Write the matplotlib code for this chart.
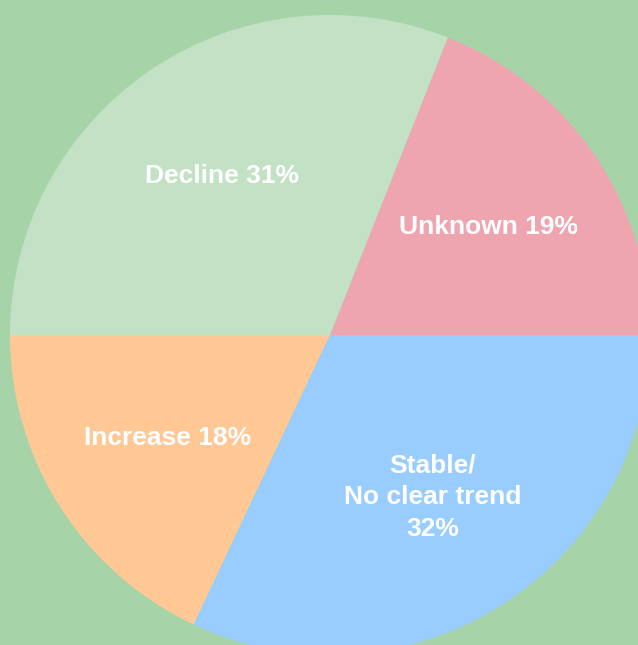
import matplotlib.pyplot as plt

# trend categories, counter-clockwise from 3 o'clock
labels = ['Unknown 19%', 'Decline 31%', 'Increase 18%', 'Stable/\nNo clear trend\n32%']
shares = [19, 31, 18, 32]
colors = ['#efa5b0', '#c3e2c5', '#ffc894', '#99ccff']
bg = '#a6d4a8'

W, H = 638, 645
fig = plt.figure(figsize=(W / 100, H / 100), dpi=100, facecolor=bg)
ax = fig.add_axes([0, 0, 1, 1])
ax.set_facecolor(bg)

# pie centred at pixel (330, 335), radius 320, overflowing the right and bottom edges
cx, cy, r = 330, H - 335, 320
wedges, texts = ax.pie(shares, labels=labels, colors=colors, startangle=0,
                       counterclock=True, center=(cx, cy), radius=r,
                       labeldistance=0.6, frame=True,
                       wedgeprops=dict(linewidth=0),
                       textprops=dict(color='white', fontsize=19, fontweight='bold',
                                      family=['Liberation Sans', 'DejaVu Sans']))
for t in texts:
    t.set_horizontalalignment('center')
    t.set_verticalalignment('center')
    t.set_multialignment('center')
    t.set_linespacing(1.4)

ax.set_xlim(0, W)
ax.set_ylim(0, H)
ax.set_aspect('equal')
ax.axis('off')

fig.savefig('out.png', dpi=100, facecolor=bg)
